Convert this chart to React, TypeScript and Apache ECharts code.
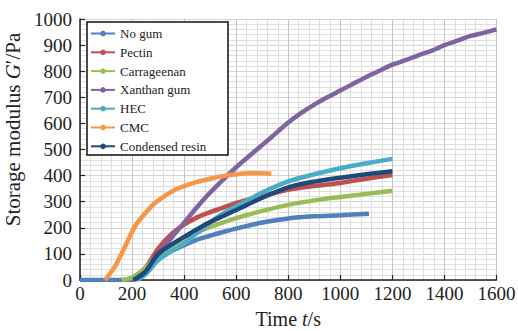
import React, { useEffect, useRef } from "react";
import * as echarts from "echarts";

const seriesNames = ["No gum", "Pectin", "Carrageenan", "Xanthan gum", "HEC", "CMC", "Condensed resin"];
const colors = ["#4f81bd", "#c0504d", "#9bbb59", "#8064a2", "#4bacc6", "#f79646", "#1f497d"];

const noGumT = [0, 50, 100, 150, 195, 250, 300, 350, 400, 450, 500, 550, 600, 700, 800, 900, 1000, 1110];
const noGumG = [0, 0, 0, 0, 0, 40, 80, 110, 133, 155, 170, 184, 197, 220, 236, 244, 248, 254];

const pectinT = [195, 250, 300, 350, 400, 450, 500, 550, 600, 700, 800, 900, 1000, 1100, 1200];
const pectinG = [0, 45, 120, 175, 212, 240, 260, 277, 295, 322, 346, 360, 372, 388, 402];

const carrT = [160, 200, 250, 300, 350, 400, 450, 500, 550, 600, 700, 800, 900, 1000, 1100, 1200];
const carrG = [0, 10, 45, 95, 130, 158, 182, 203, 221, 237, 265, 288, 305, 318, 330, 342];

const xanT = [215, 260, 300, 350, 400, 450, 500, 550, 600, 650, 700, 750, 800, 850, 900, 950, 1000, 1050, 1100, 1150, 1200, 1250, 1300, 1350, 1400, 1450, 1500, 1550, 1600];
const xanG = [0, 40, 95, 160, 220, 280, 335, 385, 432, 475, 517, 560, 603, 640, 672, 700, 726, 752, 778, 802, 825, 842, 861, 878, 900, 917, 935, 947, 960];

const hecT = [215, 250, 300, 350, 400, 450, 500, 550, 600, 700, 800, 900, 1000, 1100, 1200];
const hecG = [0, 20, 75, 110, 140, 180, 220, 255, 282, 335, 378, 405, 428, 447, 464];

const cmcT = [96, 134, 173, 211, 250, 288, 330, 365, 400, 450, 500, 550, 600, 650, 700, 735];
const cmcG = [0, 51, 128, 205, 255, 295, 325, 346, 360, 376, 388, 398, 405, 409, 409, 407];

const resinT = [205, 250, 300, 350, 400, 450, 500, 550, 600, 700, 800, 900, 1000, 1100, 1200];
const resinG = [0, 30, 100, 135, 165, 195, 222, 245, 268, 315, 355, 377, 392, 405, 417];

const allT = [noGumT, pectinT, carrT, xanT, hecT, cmcT, resinT];
const allG = [noGumG, pectinG, carrG, xanG, hecG, cmcG, resinG];

const FONT = "'Liberation Serif', 'Times New Roman', serif";

export default function App() {
  const ref = useRef<HTMLDivElement>(null);
  useEffect(() => {
    if (!ref.current) return;
    const chart = echarts.init(ref.current, undefined, { renderer: "svg" });
    chart.setOption({
      animation: false,
      textStyle: { fontFamily: FONT },
      grid: { left: 80, right: 21.5, top: 19, bottom: 51, containLabel: false, outerBoundsMode: "none" },
      graphic: [
        {
          type: "rect",
          z: 5,
          shape: { x: 87, y: 22, width: 141, height: 133 },
          style: { fill: "#fff", stroke: "#111", lineWidth: 1.5 },
        },
      ],
      legend: {
        orient: "vertical",
        left: 87,
        top: 22,
        z: 10,
        padding: [5, 8, 5, 3],
        itemGap: 5.8,
        itemWidth: 24,
        itemHeight: 7,
        textStyle: { fontFamily: FONT, fontSize: 13, color: "#222" },
        data: seriesNames,
      },
      xAxis: {
        type: "value",
        min: 0,
        max: 1600,
        interval: 200,
        name: "{a|Time }{i|t}{a|/s}",
        nameLocation: "middle",
        nameGap: 29,
        nameTextStyle: {
          rich: {
            a: { fontFamily: FONT, fontSize: 20, color: "#222" },
            i: { fontFamily: FONT, fontSize: 20, color: "#222", fontStyle: "italic" },
          },
        },
        axisLine: { lineStyle: { color: "#222", width: 1.5 } },
        axisTick: { show: true, inside: true, length: 5, lineStyle: { color: "#222", width: 1.2 } },
        axisLabel: { fontFamily: FONT, fontSize: 19, color: "#222", margin: 4, formatter: (v: number) => String(v) },
        splitLine: { show: true, lineStyle: { color: "#c4c4c4", width: 1 } },
        minorTick: { show: false, splitNumber: 5 },
        minorSplitLine: { show: true, lineStyle: { color: "#dedede", width: 1 } },
      },
      yAxis: {
        type: "value",
        min: 0,
        max: 1000,
        interval: 100,
        name: "{a|Storage modulus }{i|G}{a|′/Pa}",
        nameLocation: "middle",
        nameGap: 49,
        nameTextStyle: {
          padding: [0, 0, 0, 40],
          rich: {
            a: { fontFamily: FONT, fontSize: 21, color: "#222" },
            i: { fontFamily: FONT, fontSize: 21, color: "#222", fontStyle: "italic" },
          },
        },
        axisLine: { show: true, lineStyle: { color: "#222", width: 1.5 } },
        axisTick: { show: true, inside: true, length: 5, lineStyle: { color: "#222", width: 1.2 } },
        axisLabel: { fontFamily: FONT, fontSize: 19, color: "#222", margin: 8, formatter: (v: number) => String(v) },
        splitLine: { show: true, lineStyle: { color: "#d4d4d4", width: 1 } },
        minorTick: { show: false, splitNumber: 5 },
        minorSplitLine: { show: true, lineStyle: { color: "#e0e0e0", width: 1 } },
      },
      series: seriesNames.map((name, i) => ({
        name,
        type: "line",
        smooth: 0.3,
        symbol: "circle",
        symbolSize: 6,
        showSymbol: false,
        color: colors[i],
        lineStyle: { width: 4.5, color: colors[i] },
        data: allT[i].map((t, j) => [t, allG[i][j]]),
      })),
    });
    return () => chart.dispose();
  }, []);
  return <div ref={ref} style={{ width: 518, height: 331, position: "absolute", left: 0, top: 0 }} />;
}
